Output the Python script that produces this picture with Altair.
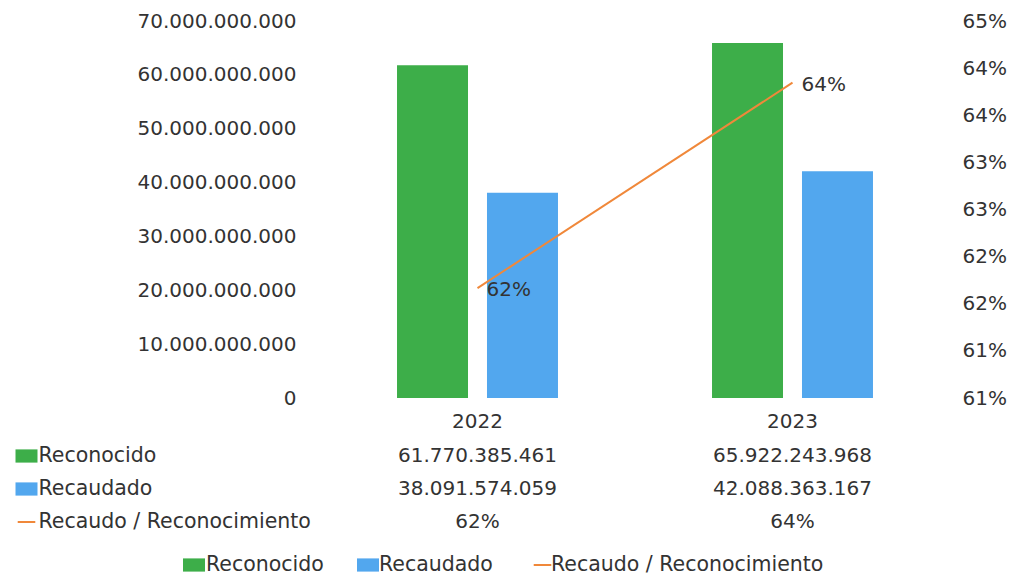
import altair as alt
import pandas as pd

# ---- data ----
years = ["2022", "2023"]
reconocido = [61770385461, 65922243968]
recaudado = [38091574059, 42088363167]
series = ["Reconocido", "Recaudado", "Recaudo / Reconocimiento"]
left_ticks = [0, 10e9, 20e9, 30e9, 40e9, 50e9, 60e9, 70e9]
right_ticks = [0.605, 0.61, 0.615, 0.62, 0.625, 0.63, 0.635, 0.64, 0.645]

ratio = [rc / rn for rc, rn in zip(recaudado, reconocido)]

FONT = "DejaVu Sans"
FS = 20
FS_TXT = 20.5
TXT = "#333333"
GREEN, BLUE, ORANGE = "#3DAE49", "#52A7EE", "#F0883A"
RECT = "M-1,-0.6H1V0.6H-1Z"
DASH = "M-0.8,-0.09H0.8V0.09H-0.8Z"

# layout of the hand-drawn legend row (pixels relative to plot origin)
LEG_Y = 125.5
LEG_SYM_X = [-126, 48, 222.5]
LEG_TXT_X = [-114, 59, 231]


def fmt_num(v):
    return f"{v:,}".replace(",", ".")


def fmt_pct(v):
    return f"{round(v * 100)}%"


bars_df = pd.DataFrame({
    "year": years * 2,
    "serie": [series[0]] * len(years) + [series[1]] * len(years),
    "valor": reconocido + recaudado,
})
line_df = pd.DataFrame({"year": years, "ratio": ratio,
                        "label": [fmt_pct(v) for v in ratio]})
table_df = pd.DataFrame({
    "year": years * 3,
    "serie": [s for s in series for _ in years],
    "texto": [fmt_num(v) for v in reconocido]
    + [fmt_num(v) for v in recaudado]
    + [fmt_pct(v) for v in ratio],
})
rows_df = pd.DataFrame({"serie": series})

cscale = alt.Scale(domain=series, range=[GREEN, BLUE, ORANGE])
sscale = alt.Scale(domain=series, range=[RECT, RECT, DASH])
xscale = alt.Scale(domain=years, paddingInner=0, paddingOuter=0)

bars = alt.Chart(bars_df).mark_bar().encode(
    x=alt.X("year:N", scale=xscale,
            axis=alt.Axis(title=None, labelAngle=0, ticks=False, domain=False,
                          labelPadding=13, labelFontSize=FS, labelFont=FONT,
                          labelColor=TXT)),
    xOffset=alt.XOffset("serie:N", scale=alt.Scale(domain=series[:2],
                                                   paddingInner=0.211,
                                                   paddingOuter=0.856)),
    y=alt.Y("valor:Q", scale=alt.Scale(domain=[0, 70e9], nice=False),
            axis=alt.Axis(title=None, values=left_ticks, grid=False,
                          ticks=False, tickSize=0, domain=False,
                          labelPadding=24, labelFontSize=FS, labelFont=FONT,
                          labelColor=TXT,
                          labelExpr="replace(format(datum.value, ','), regexp(',', 'g'), '.')")),
    color=alt.Color("serie:N", scale=cscale, legend=None),
)

ratio_y = alt.Y("ratio:Q",
                scale=alt.Scale(domain=[0.605, 0.645], nice=False, zero=False),
                axis=alt.Axis(title=None, orient="right", values=right_ticks,
                              grid=False, ticks=False, tickSize=0, domain=False,
                              labelPadding=12, labelFontSize=FS, labelFont=FONT,
                              labelColor=TXT,
                              labelExpr="toString(round(datum.value * 100 + 0.001)) + '%'"))

line = alt.Chart(line_df).mark_line(color=ORANGE, strokeWidth=2).encode(
    x=alt.X("year:N", scale=xscale),
    y=ratio_y,
)
line_labels = alt.Chart(line_df).mark_text(
    align="left", baseline="middle", dx=9, dy=2, fontSize=FS, font=FONT,
    color=TXT,
).encode(
    x=alt.X("year:N", scale=xscale),
    y=ratio_y,
    text="label:N",
)

top = alt.layer(
    bars, alt.layer(line, line_labels)
).resolve_scale(y="independent").properties(width=630, height=377)

row_y = alt.Y("serie:N", scale=alt.Scale(domain=series), axis=None)

tbl_text = alt.Chart(table_df).mark_text(
    fontSize=FS, font=FONT, color=TXT, baseline="middle"
).encode(
    x=alt.X("year:N", scale=xscale, axis=None),
    y=row_y,
    text="texto:N",
)
row_labels = alt.Chart(rows_df).mark_text(
    align="left", baseline="middle", fontSize=FS_TXT, font=FONT, color=TXT
).encode(
    x=alt.value(-281.5),
    y=row_y,
    text="serie:N",
)
swatches = alt.Chart(rows_df).mark_point(
    filled=True, opacity=1, size=484, strokeWidth=0
).encode(
    x=alt.value(-293.5),
    y=row_y,
    fill=alt.Fill("serie:N", scale=cscale, legend=None),
    shape=alt.Shape("serie:N", scale=sscale, legend=None),
)

# bottom legend (drawn with marks, one entry per series)
legend_layers = []
for i, s in enumerate(series):
    base = alt.Chart(rows_df).transform_filter(alt.datum.serie == s)
    legend_layers.append(
        base.mark_point(filled=True, opacity=1, size=484, strokeWidth=0).encode(
            x=alt.value(LEG_SYM_X[i]), y=alt.value(LEG_Y),
            fill=alt.Fill("serie:N", scale=cscale, legend=None),
            shape=alt.Shape("serie:N", scale=sscale, legend=None),
        )
    )
    legend_layers.append(
        base.mark_text(align="left", baseline="middle", fontSize=FS_TXT,
                       font=FONT, color=TXT).encode(
            x=alt.value(LEG_TXT_X[i]), y=alt.value(LEG_Y), text="serie:N",
        )
    )

table = alt.layer(tbl_text, row_labels, swatches, *legend_layers).properties(
    width=630, height=99)

chart = alt.vconcat(top, table, spacing=41.5, bounds="flush").properties(
    padding={"left": 7, "top": 3, "right": 5, "bottom": 0},
    background="white",
).configure(font=FONT, view=alt.ViewConfig(stroke=None))

chart.save("out.html", embed_options={"renderer": "svg", "actions": False})
